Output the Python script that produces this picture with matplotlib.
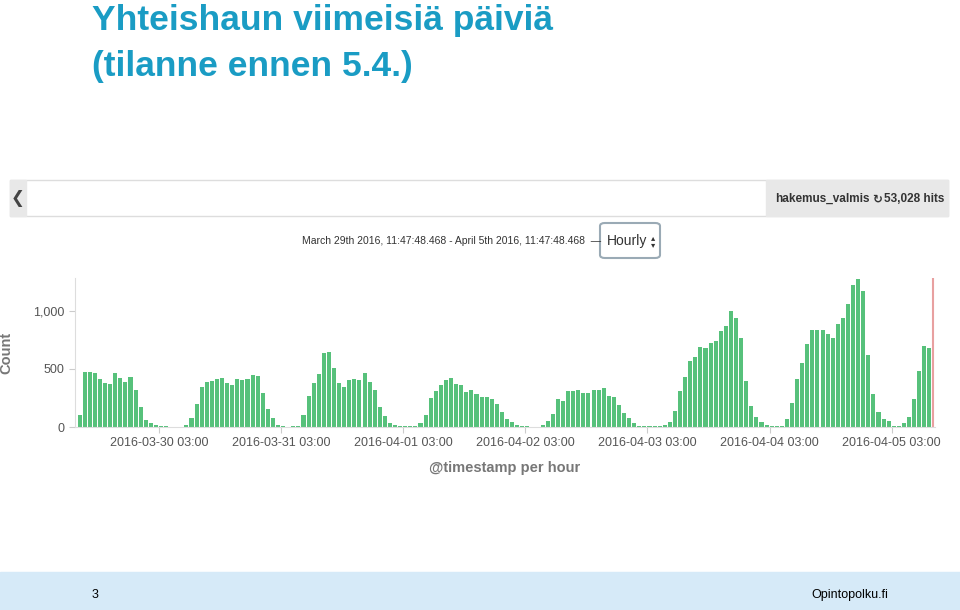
import numpy as np
import matplotlib.pyplot as plt
from matplotlib.patches import Rectangle, FancyBboxPatch

# hourly hit counts, starting 2016-03-29 11:00
counts = [100, 477, 471, 462, 416, 376, 373, 468, 419, 384, 428, 321, 170, 58, 35, 14,
          12, 5, 3, 3, 3, 20, 81, 194, 344, 384, 393, 410, 425, 379, 364, 416, 408, 413,
          445, 439, 292, 156, 78, 20, 9,
          3, 6, 8, 104, 263, 381, 460, 636, 650, 506, 379, 344, 402, 410, 408, 468,
          390, 321, 173, 92, 35, 20, 10, 5, 5, 10, 38, 101, 249, 306, 358, 402, 422, 373,
          358, 298, 315, 286, 260, 260, 240, 199, 127, 72,
          40, 17, 8, 5, 3, 3, 14, 52, 110, 237, 220, 306, 306, 315, 295, 295, 315, 315,
          335, 263, 257, 191, 124, 78, 32, 10, 8, 5, 5, 10, 14, 40, 139, 306, 434, 569,
          607, 688, 682, 728, 743, 824, 870,
          1000, 936, 766, 399, 179, 90, 43, 17, 10, 10, 10, 69, 208, 416, 552, 711, 838,
          838, 838, 800, 766, 890, 939, 1058, 1220, 1272, 1168, 621, 286, 130, 72, 49, 12,
          10, 35, 90, 240, 486, 702, 682]
tick_pos = [16, 40, 64, 88, 112, 136, 160]
tick_labels = ["2016-03-30 03:00", "2016-03-31 03:00", "2016-04-01 03:00", "2016-04-02 03:00",
               "2016-04-03 03:00", "2016-04-04 03:00", "2016-04-05 03:00"]

plt.rcParams["font.family"] = "Liberation Sans"
fig = plt.figure(figsize=(9.6, 6.1), dpi=100)

# slide title
fig.text(92 / 960, 1 - 30 / 610, "Yhteishaun viimeisiä päiviä", color="#1a9cc4",
         fontsize=25.5, fontweight="bold", va="baseline", ha="left")
fig.text(92 / 960, 1 - 76 / 610, "(tilanne ennen 5.4.)", color="#1a9cc4",
         fontsize=25.5, fontweight="bold", va="baseline", ha="left")

# footer band
fig.patches.append(Rectangle((0, 0), 1, 38 / 610, transform=fig.transFigure,
                             color="#d6eaf8", zorder=0))
fig.text(0.095, 0.015, "3", fontsize=9, va="bottom")
fig.text(0.925, 0.015, "Opintopolku.fi", fontsize=9, va="bottom", ha="right")

# kibana header
fig.patches.append(Rectangle((10 / 960, 1 - 216 / 610), 938 / 960, 36 / 610,
                             transform=fig.transFigure, facecolor="white",
                             edgecolor="#dddddd", lw=1))
fig.patches.append(Rectangle((10 / 960, 1 - 216 / 610), 16 / 960, 36 / 610,
                             transform=fig.transFigure, color="#e8e8e8"))
fig.text(18 / 960, 1 - 198 / 610, "❮", fontsize=12, ha="center", va="center",
         family="DejaVu Sans", color="#444444")
fig.patches.append(Rectangle((766 / 960, 1 - 216 / 610), 182 / 960, 36 / 610,
                             transform=fig.transFigure, color="#e8e8e8"))
fig.text(775 / 960, 1 - 199 / 610, "hakemus_valmis", fontsize=8.5, fontweight="bold",
         va="center", color="#333333")
fig.text(877 / 960, 1 - 199 / 610, "↻", fontsize=8.5, fontweight="bold", ha="center",
         va="center", family="DejaVu Sans", color="#333333")
fig.text(944 / 960, 1 - 199 / 610, "53,028 hits", fontsize=8.5, fontweight="bold",
         va="center", ha="right", color="#333333")
fig.text(302 / 960, 1 - 241 / 610,
         "March 29th 2016, 11:47:48.468 - April 5th 2016, 11:47:48.468  —",
         fontsize=7.5, va="center", color="#333333")
fig.patches.append(FancyBboxPatch((600 / 960, 1 - 258 / 610), 60 / 960, 35 / 610,
                                  boxstyle="round,pad=0,rounding_size=0.005",
                                  transform=fig.transFigure, facecolor="white",
                                  edgecolor="#9aaab5", lw=1.5))
fig.text(607 / 960, 1 - 241 / 610, "Hourly", fontsize=10, va="center", color="#333333")
fig.text(653 / 960, 1 - 241 / 610, "▴\n▾", fontsize=6, va="center", ha="center",
         family="DejaVu Sans", color="#333333", linespacing=0.8)

# chart
ax = fig.add_axes([75 / 960, 183 / 610, 860 / 960, 149 / 610])
x = np.arange(len(counts))
ax.bar(x, counts, width=0.8, color="#57c17b", align="edge")
ax.axvline(len(counts) + 0.1, color="#e8a0a0", lw=1.5)
ax.set_xlim(-0.5, len(counts) + 0.5)
ax.set_ylim(0, 1284)
ax.set_yticks([0, 500, 1000])
ax.set_yticklabels(["0", "500", "1,000"])
ax.set_xticks(tick_pos)
ax.set_xticklabels(tick_labels)
ax.tick_params(axis="both", labelsize=9, colors="#555555", length=4, color="#cccccc")
for s in ["top", "right"]:
    ax.spines[s].set_visible(False)
ax.spines["left"].set_color("#dddddd")
ax.spines["bottom"].set_color("#dddddd")
ax.set_ylabel("Count", fontsize=10.5, fontweight="bold", color="#777777", labelpad=14)
ax.set_xlabel("@timestamp per hour", fontsize=10.5, fontweight="bold", color="#777777",
              labelpad=8)

fig.savefig("out.png", dpi=100)
